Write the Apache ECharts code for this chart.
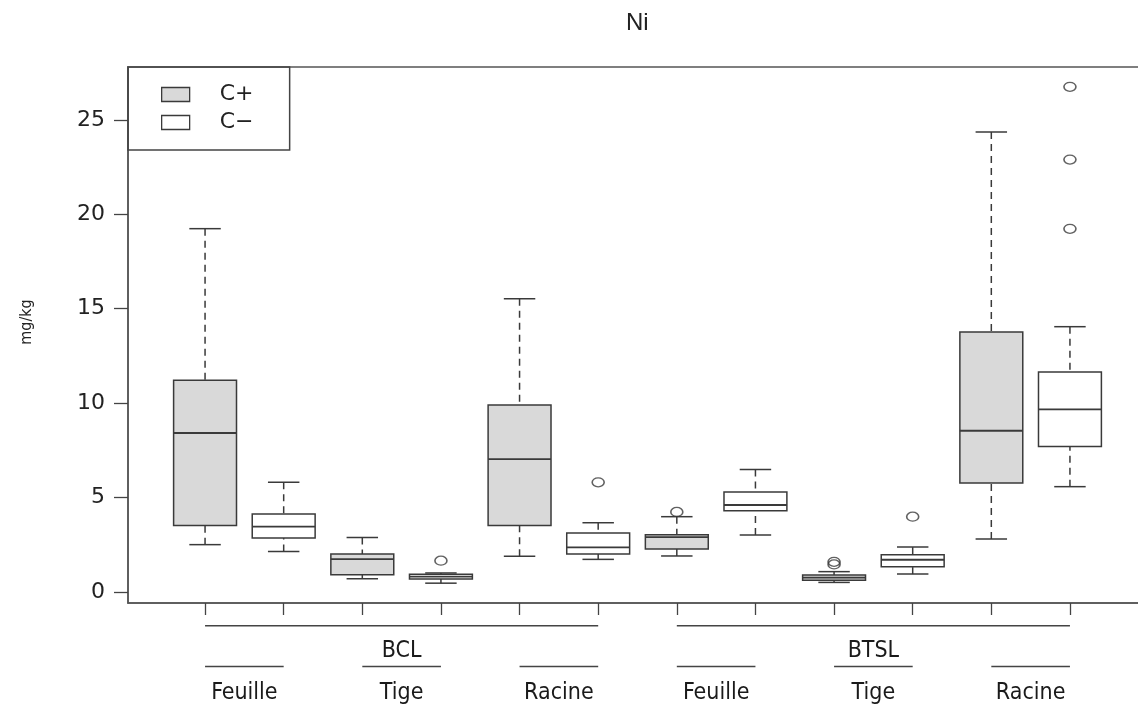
<!DOCTYPE html>
<html>
<head>
<meta charset="utf-8">
<title>Ni</title>
<script src="https://cdn.jsdelivr.net/npm/echarts@6/dist/echarts.min.js"></script>
<style>
  html, body { margin: 0; padding: 0; background: #ffffff; }
  #chart { width: 1138px; height: 709px; }
</style>
</head>
<body>
<div id="chart"></div>
<script>
// ---- data ----------------------------------------------------------------
const chartTitle = 'Ni';
const yAxisName = 'mg/kg';
const groups = ['BCL', 'BTSL'];
const organs = ['Feuille', 'Tige', 'Racine'];
const treatments = ['C+', 'C\u2212'];
const yTicks = [0, 5, 10, 15, 20, 25];

// [lower whisker, Q1, median, Q3, upper whisker]
// order: BCL Feuille, BCL Tige, BCL Racine, BTSL Feuille, BTSL Tige, BTSL Racine
const cPlusStats = [
  [2.51, 3.53, 8.42, 11.21, 19.24],
  [0.71, 0.92, 1.74, 2.02, 2.89],
  [1.89, 3.53, 7.04, 9.90, 15.53],
  [1.91, 2.28, 2.91, 3.03, 3.99],
  [0.51, 0.62, 0.76, 0.90, 1.08],
  [2.81, 5.77, 8.54, 13.77, 24.36]
];
const cMinusStats = [
  [2.15, 2.86, 3.46, 4.13, 5.81],
  [0.47, 0.69, 0.82, 0.94, 1.01],
  [1.73, 2.01, 2.36, 3.12, 3.67],
  [3.02, 4.31, 4.61, 5.30, 6.49],
  [0.95, 1.34, 1.71, 1.98, 2.38],
  [5.58, 7.71, 9.67, 11.65, 14.05]
];
// [box number in the series (same order as above), value]
const cPlusOutliers = [[3, 4.24], [4, 1.60], [4, 1.46]];
const cMinusOutliers = [[1, 1.66], [2, 5.81], [4, 3.99], [5, 19.23], [5, 22.9], [5, 26.75]];

// ---- layout / style ------------------------------------------------------
const X_MIN = -0.98, X_MAX = 11.98;   // R-style xlim with 4% padding
const Y_MIN = -0.58, Y_MAX = 27.8;
const BOX_WIDTH = 0.8;
const INK = '#3a3a3a';
const FILL_PLUS = '#d9d9d9';
const FILL_MINUS = '#ffffff';
const NARROW = '"Liberation Sans Narrow", "DejaVu Sans Condensed", "Open Sans", sans-serif';
const ROUND = '"DejaVu Sans", "Noto Sans", sans-serif';

const nBoxes = groups.length * organs.length * treatments.length;
const boxPositions = Array.from({ length: nBoxes }, (_, i) => i);

function boxData(stats, t) {
  return stats.map((s, k) => [k * treatments.length + t].concat(s));
}
function outlierData(list, t) {
  return list.map(([k, v]) => [k * treatments.length + t, v]);
}

function boxRenderer(fill) {
  return function (params, api) {
    const x = api.value(0);
    const lo = api.value(1), q1 = api.value(2), md = api.value(3), q3 = api.value(4), hi = api.value(5);
    const cx = api.coord([x, md])[0];
    const y = v => api.coord([x, v])[1];
    const half = api.size([BOX_WIDTH, 0])[0] / 2;
    const cap = half / 2;
    const solid = { stroke: INK, lineWidth: 1.5, fill: null };
    const dashed = { stroke: INK, lineWidth: 1.5, lineDash: [7, 5], fill: null };
    return {
      type: 'group',
      children: [
        { type: 'line', shape: { x1: cx, y1: y(hi), x2: cx, y2: y(q3) }, style: dashed },
        { type: 'line', shape: { x1: cx, y1: y(lo), x2: cx, y2: y(q1) }, style: dashed },
        { type: 'line', shape: { x1: cx - cap, y1: y(hi), x2: cx + cap, y2: y(hi) }, style: solid },
        { type: 'line', shape: { x1: cx - cap, y1: y(lo), x2: cx + cap, y2: y(lo) }, style: solid },
        { type: 'rect', shape: { x: cx - half, y: y(q3), width: 2 * half, height: y(q1) - y(q3) },
          style: { fill: fill, stroke: INK, lineWidth: 1.5 } },
        { type: 'line', shape: { x1: cx - half, y1: y(md), x2: cx + half, y2: y(md) },
          style: { stroke: INK, lineWidth: 1.8, fill: null } }
      ]
    };
  };
}

// spans of the hierarchical axis under the plot
const groupSpans = groups.map((g, gi) => {
  const n = organs.length * treatments.length;
  return [gi * n, gi * n + n - 1];
});
const organSpans = [];
const organSpanNames = [];
groups.forEach((g, gi) => {
  organs.forEach((o, oi) => {
    const start = (gi * organs.length + oi) * treatments.length;
    organSpans.push([start, start + treatments.length - 1]);
    organSpanNames.push(o);
  });
});

function spanRenderer(names, lineOffset, textOffset) {
  return function (params, api) {
    const a = api.value(0), b = api.value(1);
    const bottom = api.coord([a, Y_MIN])[1];
    const x1 = api.coord([a, Y_MIN])[0];
    const x2 = api.coord([b, Y_MIN])[0];
    return {
      type: 'group',
      children: [
        { type: 'line', shape: { x1: x1, y1: bottom + lineOffset, x2: x2, y2: bottom + lineOffset },
          style: { stroke: '#444', lineWidth: 1.5 } },
        { type: 'text', style: {
            text: names[params.dataIndex], x: (x1 + x2) / 2, y: bottom + textOffset,
            align: 'center', verticalAlign: 'middle',
            fill: '#1a1a1a', fontSize: 23, fontFamily: NARROW } }
      ]
    };
  };
}

const chart = echarts.init(document.getElementById('chart'), null, { renderer: 'canvas' });

chart.setOption({
  animation: false,
  backgroundColor: '#ffffff',
  title: {
    text: chartTitle,
    left: 621, top: 6,
    textStyle: { fontSize: 24, fontWeight: 'normal', color: '#222', fontFamily: '"Liberation Sans", Arial, sans-serif' }
  },
  legend: {
    orient: 'vertical',
    left: 128, top: 67,
    padding: [16.5, 30, 16.5, 33],
    borderColor: '#444', borderWidth: 1.5,
    itemWidth: 28, itemHeight: 14, itemGap: 6,
    textStyle: { fontSize: 22, color: '#222', fontFamily: ROUND, lineHeight: 14, width: 40, padding: [0, 0, 0, 25] },
    data: [
      { name: treatments[0], icon: 'rect', itemStyle: { color: FILL_PLUS, borderColor: INK, borderWidth: 1.3 } },
      { name: treatments[1], icon: 'rect', itemStyle: { color: FILL_MINUS, borderColor: INK, borderWidth: 1.3 } }
    ],
    selectedMode: false
  },
  grid: {
    left: 128, top: 67, width: 1019, height: 536,
    outerBoundsMode: 'none', containLabel: false,
    show: true, borderColor: '#555', borderWidth: 1.5, backgroundColor: 'transparent'
  },
  xAxis: {
    type: 'value', min: X_MIN, max: X_MAX,
    splitLine: { show: false },
    axisLine: { show: true, onZero: false, lineStyle: { color: '#555', width: 1.5 } },
    axisTick: { show: true, customValues: boxPositions, length: 12, lineStyle: { color: '#444', width: 1.3 } },
    axisLabel: { show: false }
  },
  yAxis: {
    type: 'value', min: Y_MIN, max: Y_MAX,
    name: yAxisName, nameLocation: 'middle', nameRotate: 90, nameGap: 93,
    nameTextStyle: { fontSize: 16, color: '#222', fontFamily: NARROW, padding: [0, 0, 0, 26] },
    splitLine: { show: false },
    axisLine: { show: true, onZero: false, lineStyle: { color: '#555', width: 1.5 } },
    axisTick: { show: true, customValues: yTicks, length: 14, lineStyle: { color: '#444', width: 1.3 } },
    axisLabel: { customValues: yTicks, margin: 23, fontSize: 22, color: '#222', fontFamily: ROUND }
  },
  series: [
    {
      name: treatments[0], type: 'custom', silent: true, clip: false,
      itemStyle: { color: FILL_PLUS, borderColor: INK },
      encode: { x: 0, y: [1, 2, 3, 4, 5] },
      renderItem: boxRenderer(FILL_PLUS),
      data: boxData(cPlusStats, 0), z: 3
    },
    {
      name: treatments[1], type: 'custom', silent: true, clip: false,
      itemStyle: { color: FILL_MINUS, borderColor: INK },
      encode: { x: 0, y: [1, 2, 3, 4, 5] },
      renderItem: boxRenderer(FILL_MINUS),
      data: boxData(cMinusStats, 1), z: 3
    },
    {
      name: 'outliers', type: 'scatter', silent: true,
      symbol: 'circle', symbolSize: [12, 9],
      itemStyle: { color: 'rgba(255,255,255,0)', borderColor: INK, borderWidth: 1.4 },
      data: outlierData(cPlusOutliers, 0).concat(outlierData(cMinusOutliers, 1)), z: 4
    },
    {
      name: 'groups', type: 'custom', silent: true, clip: false,
      encode: { x: [0, 1] },
      renderItem: spanRenderer(groups, 22.7, 48),
      data: groupSpans
    },
    {
      name: 'organs', type: 'custom', silent: true, clip: false,
      encode: { x: [0, 1] },
      renderItem: spanRenderer(organSpanNames, 63.5, 90),
      data: organSpans
    }
  ]
});
</script>
</body>
</html>
